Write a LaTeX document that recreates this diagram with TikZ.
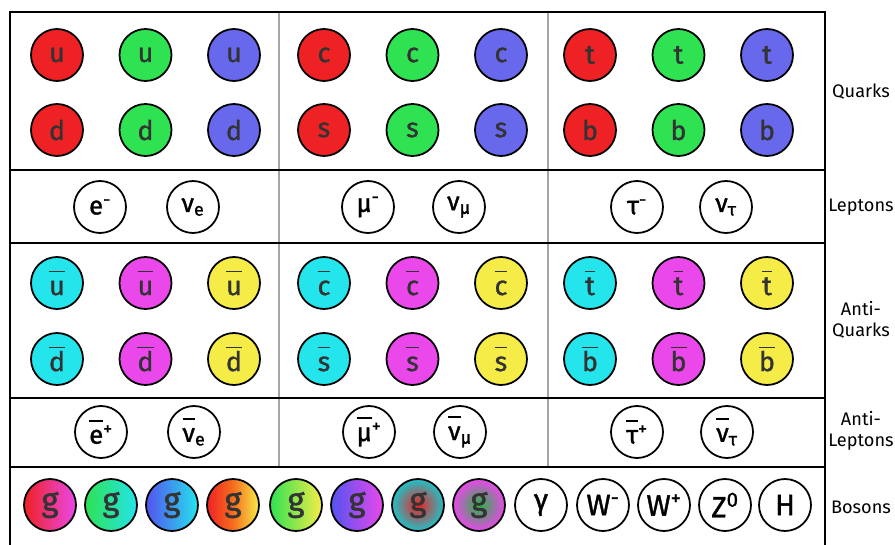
\documentclass[tikz,border=0pt]{standalone}
\usepackage{fontspec}
\setmainfont{Fira Sans}
\newfontfamily\partfont{Fira Sans}[FakeBold=1.2]
\usepackage{xcolor}
\usepackage{tikz}
\usetikzlibrary{shadings}
\tikzset{every picture/.append style={thick}}

\definecolor{qred}{RGB}{238,34,36}
\definecolor{qgreen}{RGB}{46,226,82}
\definecolor{qblue}{RGB}{104,104,236}
\definecolor{acyan}{RGB}{36,228,236}
\definecolor{amagenta}{RGB}{234,72,234}
\definecolor{ayellow}{RGB}{246,236,72}
\definecolor{gorange}{RGB}{246,110,30}

\newcommand{\antibar}[1]{\vbox{\hrule height 1.4pt\kern 2.2pt\hbox{\vphantom{d}#1}}}

\begin{document}
\begin{tikzpicture}[x=0.03cm, y=-0.03cm,
    particle/.style={circle, draw=black, line width=1.5pt, minimum size=1.56cm, inner sep=0pt},
    quark/.style={particle, text=black!80, font=\partfont\fontsize{23}{25}\selectfont},
    lepton/.style={particle, fill=white, font=\partfont\fontsize{22}{24}\selectfont},
    gluon/.style={particle, text=black!80, font=\partfont\fontsize{28}{30}\selectfont},
    boson/.style={particle, fill=white, font=\partfont\fontsize{25}{27}\selectfont},
    frame/.style={line width=1.6pt},
    sep/.style={line width=1pt, gray!70},
    rowlabel/.style={align=center, font=\fontsize{15.5}{18}\selectfont}]
    \useasboundingbox (0,0) rectangle (895,545);

    % Table lines
    \draw[sep] (279,12) -- (279,467);
    \draw[sep] (548,12) -- (548,467);
    \draw[frame] (10,545) -- (10,12) -- (825,12) -- (825,545);
    \draw[frame] (10,170) -- (825,170);
    \draw[frame] (10,243) -- (825,243);
    \draw[frame] (10,398) -- (825,398);
    \draw[frame] (10,467) -- (825,467);

    % Quarks and anti-quarks, one generation per column
    \foreach \cx/\up/\dn in {57/u/d, 324/c/s, 590/t/b} {
        \foreach \col/\acol/\k in {qred/acyan/0, qgreen/amagenta/1, qblue/ayellow/2} {
            \node[quark, fill=\col] (\up-\col) at ({\cx+88.5*\k},55) {\up};
            \node[quark, fill=\col] (\dn-\col) at ({\cx+88.5*\k},130) {\dn};
            \node[quark, fill=\acol] (anti-\up-\acol) at ({\cx+88.5*\k},283) {\antibar{\up}};
            \node[quark, fill=\acol] (anti-\dn-\acol) at ({\cx+88.5*\k},359) {\antibar{\dn}};
        }
    }

    % Leptons
    \node[lepton] (electron) at (100,207) {e\textsuperscript{-}};
    \node[lepton] (nu-e) at (193,207) {ν\textsubscript{e}};
    \node[lepton] (muon) at (368,207) {μ\textsuperscript{-}};
    \node[lepton] (nu-mu) at (459,207) {ν\textsubscript{μ}};
    \node[lepton] (tau) at (637,207) {τ\textsuperscript{-}};
    \node[lepton] (nu-tau) at (726,207) {ν\textsubscript{τ}};

    % Anti-leptons
    \node[lepton] (positron) at (101,432) {\antibar{e}\textsuperscript{+}};
    \node[lepton] (anti-nu-e) at (194,432) {\antibar{ν}\textsubscript{e}};
    \node[lepton] (anti-muon) at (369,432) {\antibar{μ}\textsuperscript{+}};
    \node[lepton] (anti-nu-mu) at (460,432) {\antibar{ν}\textsubscript{μ}};
    \node[lepton] (anti-tau) at (637,432) {\antibar{τ}\textsuperscript{+}};
    \node[lepton] (anti-nu-tau) at (727,432) {\antibar{ν}\textsubscript{τ}};

    % Gluons
    \node[gluon, left color=qred, right color=amagenta] (gluon-1) at (50,505) {g};
    \node[gluon, left color=qgreen, right color=acyan] (gluon-2) at (111,505) {g};
    \node[gluon, left color=qblue!80!blue, right color=acyan] (gluon-3) at (172,505) {g};
    \node[gluon, left color=qred, right color=ayellow, middle color=gorange] (gluon-4) at (233,505) {g};
    \node[gluon, left color=qgreen, right color=ayellow] (gluon-5) at (296,505) {g};
    \node[gluon, left color=qblue!80!blue, right color=amagenta] (gluon-6) at (357,505) {g};
    \node[gluon, inner color=qred, outer color=acyan!85!black] (gluon-7) at (418,505) {g};
    \node[gluon, inner color=qgreen!80!black, outer color=amagenta] (gluon-8) at (479,505) {g};

    % Other bosons
    \node[boson] (photon) at (541,505) {γ};
    \node[boson] (w-minus) at (603,505) {W\textsuperscript{-}};
    \node[boson] (w-plus) at (664,505) {W\textsuperscript{+}};
    \node[boson] (z-zero) at (725,505) {Z\textsuperscript{0}};
    \node[boson] (higgs) at (785,505) {H};

    % Row labels
    \node[rowlabel] (quarks) at (861,92) {Quarks};
    \node[rowlabel] (leptons) at (861,207) {Leptons};
    \node[rowlabel] (antiquarks) at (861,320) {Anti-\\Quarks};
    \node[rowlabel] (antileptons) at (861,431) {Anti-\\Leptons};
    \node[rowlabel] (bosons) at (861,507) {Bosons};
\end{tikzpicture}
\end{document}
